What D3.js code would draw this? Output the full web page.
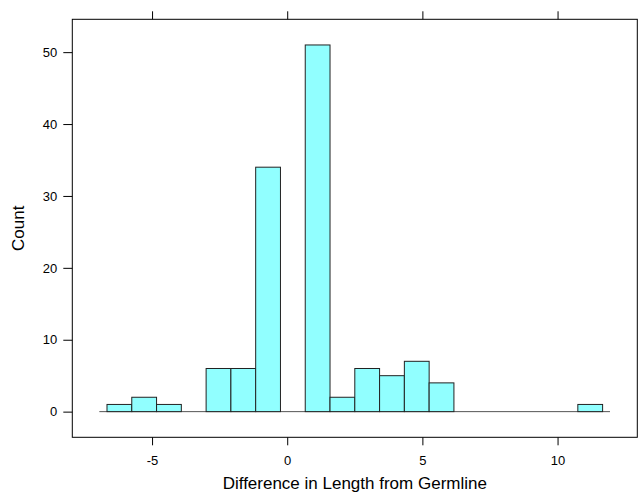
<!DOCTYPE html>
<html>
<head>
<meta charset="utf-8">
<script src="https://cdn.jsdelivr.net/npm/d3@7"></script>
<style>
  body { margin: 0; background: #fff; }
  text { font-family: "Liberation Sans", Arial, Helvetica, sans-serif; }
</style>
</head>
<body>
<svg id="chart" width="638" height="494"></svg>
<script>
// histogram bins: first break, bin width, counts per bin
const firstBreak = -20 / 3;
const binWidth = 11 / 12;
const counts = [1, 2, 1, 0, 6, 6, 34, 0, 51, 2, 6, 5, 7, 4, 0, 0, 0, 0, 0, 1];
const xTicks = [-5, 0, 5, 10];
const yTicks = [0, 10, 20, 30, 40, 50];
const xDomain = [-7.95, 12.95];
const yDomain = [-3.57, 54.57];
const baseLine = [-6.95, 11.94];

const svg = d3.select("#chart");
const margin = {top: 19.3, right: 0.7, bottom: 56.7, left: 72.3};
const width = +svg.attr("width") - margin.left - margin.right;
const height = +svg.attr("height") - margin.top - margin.bottom;
const g = svg.append("g").attr("transform", `translate(${margin.left},${margin.top})`);

const x = d3.scaleLinear().domain(xDomain).range([0, width]);
const y = d3.scaleLinear().domain(yDomain).range([height, 0]);

const bins = counts.map((c, i) => ({x0: firstBreak + i * binWidth, x1: firstBreak + (i + 1) * binWidth, n: c}));

// baseline at zero
g.append("line")
    .attr("x1", x(baseLine[0])).attr("x2", x(baseLine[1]))
    .attr("y1", y(0)).attr("y2", y(0))
    .attr("stroke", "#555").attr("stroke-width", 1);

g.selectAll(".bar")
    .data(bins.filter(d => d.n > 0))
    .enter().append("rect")
    .attr("class", "bar")
    .attr("x", d => x(d.x0))
    .attr("y", d => y(d.n))
    .attr("width", d => x(d.x1) - x(d.x0))
    .attr("height", d => y(0) - y(d.n))
    .attr("fill", "#91ffff")
    .attr("stroke", "#222")
    .attr("stroke-width", 1);

// axes
const styleAxis = sel => {
    sel.select(".domain").remove();
    sel.selectAll("line").attr("stroke", "#000");
    sel.selectAll("text").attr("fill", "#000").style("font-size", "13px");
};

g.append("g")
    .attr("transform", `translate(0,${height})`)
    .call(d3.axisBottom(x).tickValues(xTicks).tickSize(8).tickPadding(10).tickFormat(d => String(d)))
    .call(styleAxis);

g.append("g")
    .call(d3.axisTop(x).tickValues(xTicks).tickSize(8).tickFormat(""))
    .call(styleAxis);

g.append("g")
    .call(d3.axisLeft(y).tickValues(yTicks).tickSize(9).tickPadding(6).tickFormat(d => String(d)))
    .call(styleAxis);

// panel box
g.append("rect")
    .attr("width", width).attr("height", height)
    .attr("fill", "none").attr("stroke", "#000").attr("stroke-width", 1);

svg.append("text")
    .attr("x", margin.left + width / 2)
    .attr("y", 489)
    .attr("text-anchor", "middle")
    .style("font-size", "17px")
    .text("Difference in Length from Germline");

svg.append("text")
    .attr("transform", `translate(24,${margin.top + height / 2}) rotate(-90)`)
    .attr("text-anchor", "middle")
    .style("font-size", "17px")
    .text("Count");
</script>
</body>
</html>
